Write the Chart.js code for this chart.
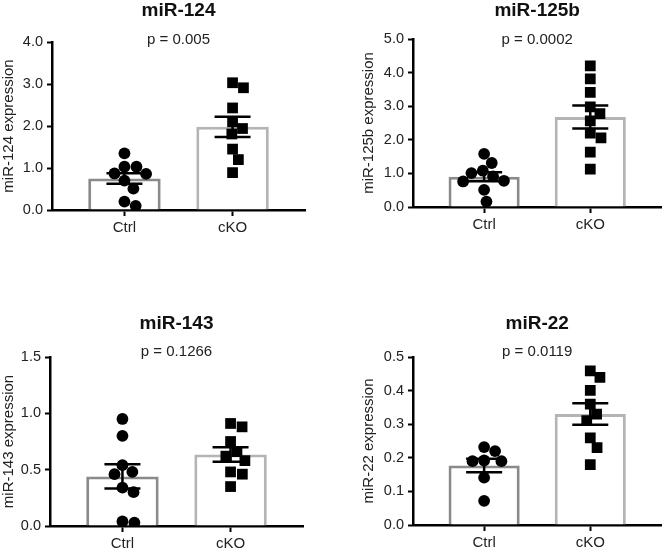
<!DOCTYPE html>
<html>
<head>
<meta charset="utf-8">
<script src="https://cdn.jsdelivr.net/npm/chart.js@4.4.0/dist/chart.umd.min.js"></script>
<style>
  html, body { margin: 0; padding: 0; background: #fff; }
  #wrap { position: relative; width: 669px; height: 554px; overflow: hidden; }
  #wrap canvas { position: absolute; }
</style>
</head>
<body>
<div id="wrap">
  <canvas id="c124" width="335" height="240" style="left:0;top:0"></canvas>
  <canvas id="c125b" width="334" height="240" style="left:335px;top:0"></canvas>
  <canvas id="c143" width="335" height="264" style="left:0;top:290px"></canvas>
  <canvas id="c22" width="334" height="264" style="left:335px;top:290px"></canvas>
</div>
<script>
/* kategori */
const groups = ['Ctrl', 'cKO'];

/* miR-124 */
const ctrl124 = [1.35, 1.03, 1.03, 0.86, 0.87, 0.70, 0.51, 0.20, 0.10];
const cko124 = [3.03, 2.91, 2.43, 2.10, 1.94, 1.81, 1.45, 1.20, 0.89];
const mean124 = [0.75, 1.98];
const sem124 = [0.127, 0.24];
const ticks124 = ['0.0', '1.0', '2.0', '3.0', '4.0'];

/* miR-125b */
const ctrl125b = [1.58, 1.31, 1.08, 1.01, 0.91, 0.78, 0.76, 0.51, 0.16];
const cko125b = [4.20, 3.81, 3.41, 2.98, 2.78, 2.56, 2.20, 2.06, 1.63, 1.13];
const mean125b = [0.90, 2.68];
const sem125b = [0.135, 0.34];
const ticks125b = ['0.0', '1.0', '2.0', '3.0', '4.0', '5.0'];

/* miR-143 */
const ctrl143 = [0.95, 0.80, 0.54, 0.48, 0.46, 0.34, 0.30, 0.04, 0.03];
const cko143 = [0.91, 0.88, 0.75, 0.66, 0.62, 0.58, 0.48, 0.46, 0.35];
const mean143 = [0.44, 0.635];
const sem143 = [0.108, 0.064];
const ticks143 = ['0.0', '0.5', '1.0', '1.5'];

/* miR-22 */
const ctrl22 = [0.232, 0.220, 0.192, 0.190, 0.190, 0.141, 0.072];
const cko22 = [0.459, 0.439, 0.401, 0.360, 0.330, 0.311, 0.259, 0.230, 0.180];
const mean22 = [0.177, 0.330];
const sem22 = [0.02, 0.032];
const ticks22 = ['0.0', '0.1', '0.2', '0.3', '0.4', '0.5'];

const titles = ['miR-124', 'miR-125b', 'miR-143', 'miR-22'];
const pValues = ['p = 0.005', 'p = 0.0002', 'p = 0.1266', 'p = 0.0119'];
const yTitles = ['miR-124 expression', 'miR-125b expression', 'miR-143 expression', 'miR-22 expression'];

/* layout tiap panel (koordinat halaman) */
const panels = [
  { id: 'c124', left: 0, top: 0, w: 335, area: [52, 42, 305, 210], titleY: 11, pY: 40, yTitleX: 9,
    ctrl: ctrl124, cko: cko124, mean: mean124, sem: sem124, ticks: ticks124 },
  { id: 'c125b', left: 335, top: 0, w: 334, area: [413, 39, 669, 207], titleY: 11, pY: 40, yTitleX: 369,
    ctrl: ctrl125b, cko: cko125b, mean: mean125b, sem: sem125b, ticks: ticks125b },
  { id: 'c143', left: 0, top: 290, w: 335, area: [50, 357, 303, 526], titleY: 324, pY: 352, yTitleX: 9,
    ctrl: ctrl143, cko: cko143, mean: mean143, sem: sem143, ticks: ticks143 },
  { id: 'c22', left: 335, top: 290, w: 334, area: [413, 357, 669, 525], titleY: 324, pY: 352, yTitleX: 369,
    ctrl: ctrl22, cko: cko22, mean: mean22, sem: sem22, ticks: ticks22 },
];

const X_MIN = -0.67, X_MAX = 1.67;
const FONT = '"Liberation Sans", Arial, Helvetica, sans-serif';
Chart.defaults.font.family = FONT;
Chart.defaults.color = '#222';

/* sebar titik biar ga numpuk (beeswarm sederhana) */
function swarm(vals, center, pxX, pxY, gap) {
  const placed = [];
  const out = [];
  vals.map(v => v).sort((a, b) => b - a).forEach(v => {
    const y = v * pxY;
    const cands = [0];
    placed.forEach(q => {
      const dy = Math.abs(q.y - y);
      if (dy < gap) {
        const dx = Math.sqrt(gap * gap - dy * dy);
        cands.push(q.x + dx, q.x - dx);
      }
    });
    cands.sort((a, b) => Math.abs(a) - Math.abs(b));
    const x = cands.find(c => placed.every(q => Math.hypot(q.x - c, q.y - y) >= gap - 0.01));
    placed.push({ x, y });
    out.push({ x: center + x / pxX, y: v });
  });
  return out;
}

/* error bar SEM */
const semPlugin = {
  id: 'sem',
  afterDatasetsDraw(chart) {
    const ctx = chart.ctx;
    const ys = chart.scales.y;
    chart.data.datasets.forEach((ds, i) => {
      if (!ds.sem) return;
      const meta = chart.getDatasetMeta(i);
      meta.data.forEach((bar, j) => {
        const m = ds.data[j].y, s = ds.sem[j];
        const top = ys.getPixelForValue(m + s), bot = ys.getPixelForValue(m - s);
        ctx.save();
        ctx.strokeStyle = '#000';
        ctx.lineWidth = 2.5;
        ctx.beginPath();
        ctx.moveTo(bar.x, top); ctx.lineTo(bar.x, bot);
        ctx.moveTo(bar.x - 18, top); ctx.lineTo(bar.x + 18, top);
        ctx.moveTo(bar.x - 18, bot); ctx.lineTo(bar.x + 18, bot);
        ctx.stroke();
        ctx.restore();
      });
    });
  }
};

/* judul + nilai p */
const labelPlugin = {
  id: 'labels',
  afterDraw(chart) {
    const o = chart.options.plugins.labels;
    const ctx = chart.ctx;
    const cx = (chart.chartArea.left + chart.chartArea.right) / 2;
    ctx.save();
    ctx.textAlign = 'center';
    ctx.textBaseline = 'middle';
    ctx.fillStyle = '#111';
    ctx.font = 'bold 19px ' + FONT;
    ctx.fillText(o.title, cx, o.titleY);
    ctx.fillStyle = '#222';
    ctx.font = '15px ' + FONT;
    ctx.fillText(o.p, cx, o.pY);
    ctx.restore();
  }
};

panels.forEach((p, k) => {
  const cv = document.getElementById(p.id);
  const h = cv.height;
  const aL = p.area[0] - p.left, aT = p.area[1] - p.top, aR = p.area[2] - p.left, aB = p.area[3] - p.top;
  const padLeft = Math.max(0, p.yTitleX - p.left - 9);
  const yw = aL - padLeft;
  const yMax = parseFloat(p.ticks[p.ticks.length - 1]);
  const pxX = (aR - aL) / (X_MAX - X_MIN);
  const pxY = (aB - aT) / yMax;

  new Chart(cv, {
    type: 'scatter',
    data: {
      datasets: [
        {
          type: 'bar',
          data: p.mean.map((m, i) => ({ x: i, y: m })),
          sem: p.sem,
          backgroundColor: '#fff',
          borderColor: ['#8a8a8a', '#b4b4b4'],
          borderWidth: 3,
          categoryPercentage: 1,
          barPercentage: 0.67,
          order: 2
        },
        {
          type: 'scatter',
          data: swarm(p.ctrl, 0, pxX, pxY, 12),
          pointStyle: 'circle',
          pointRadius: 5.9,
          backgroundColor: '#000',
          borderWidth: 0,
          order: 1
        },
        {
          type: 'scatter',
          data: swarm(p.cko, 1, pxX, pxY, 12),
          pointStyle: 'rect',
          pointRadius: 7.6,
          backgroundColor: '#000',
          borderWidth: 0,
          order: 0
        }
      ]
    },
    options: {
      responsive: false,
      animation: false,
      layout: { padding: { left: padLeft, top: aT, right: p.w - aR, bottom: 0 } },
      plugins: {
        legend: { display: false },
        tooltip: { enabled: false },
        labels: { title: titles[k], p: pValues[k], titleY: p.titleY - p.top, pY: p.pY - p.top }
      },
      scales: {
        x: {
          type: 'linear',
          min: X_MIN,
          max: X_MAX,
          offset: false,
          afterBuildTicks: s => { s.ticks = groups.map((g, i) => ({ value: i })); },
          afterFit: s => { s.height = h - aB; },
          ticks: { callback: (v, i) => groups[i], font: { size: 15 }, color: '#222', padding: 3, maxRotation: 0, autoSkip: false },
          grid: { offset: false, drawOnChartArea: false, tickLength: 6, tickWidth: 2, tickColor: '#000' },
          border: { display: true, color: '#000', width: 2.5 }
        },
        y: {
          type: 'linear',
          min: 0,
          max: yMax,
          afterBuildTicks: s => { s.ticks = p.ticks.map(t => ({ value: parseFloat(t) })); },
          afterFit: s => { s.width = yw; },
          ticks: { callback: (v, i) => p.ticks[i], font: { size: 14.5 }, color: '#222', padding: 4 },
          grid: { drawOnChartArea: false, tickLength: 5, tickWidth: 2, tickColor: '#000' },
          border: { display: true, color: '#000', width: 2.5 },
          title: { display: true, text: yTitles[k], font: { size: 15 }, color: '#222', padding: { top: 0, bottom: 0 } }
        }
      }
    },
    plugins: [semPlugin, labelPlugin]
  });
});
</script>
</body>
</html>
